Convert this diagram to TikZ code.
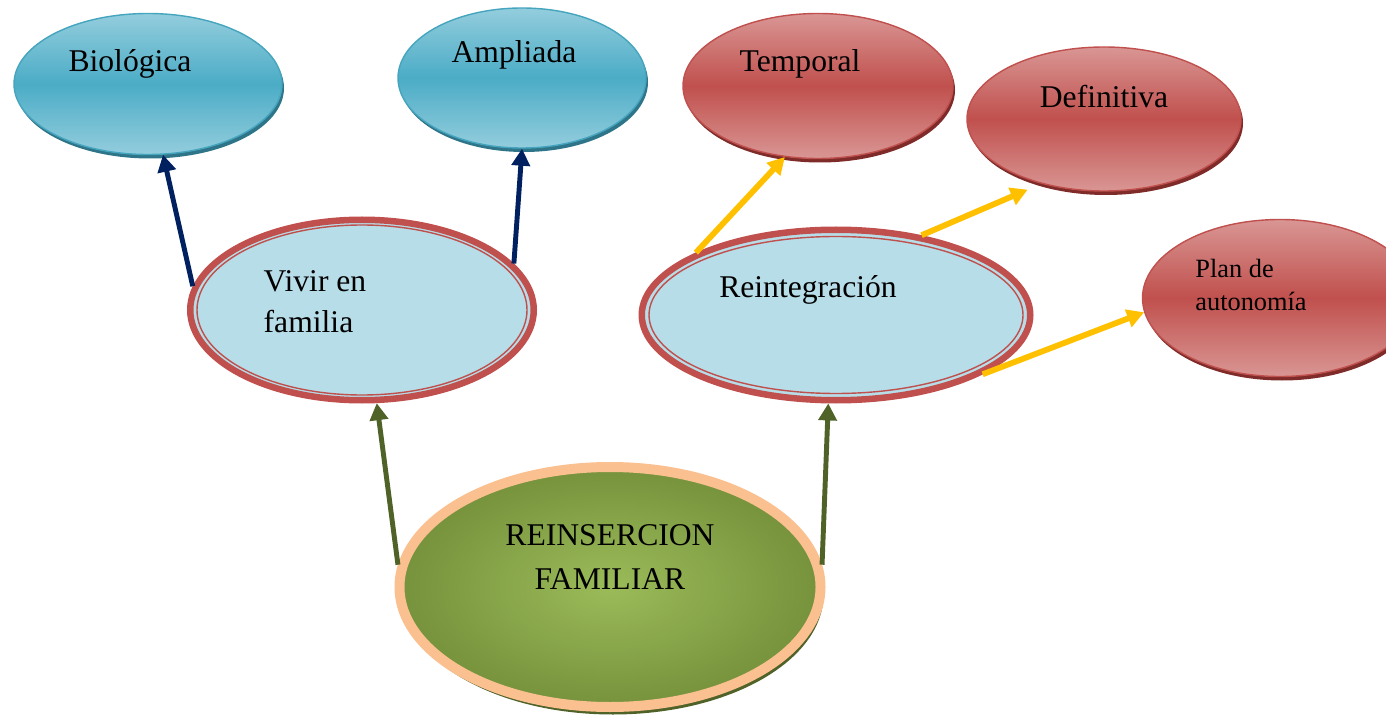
\documentclass[tikz,border=0pt]{standalone}
\usepackage{fontspec}
\setmainfont{Liberation Serif}
\usetikzlibrary{positioning, shapes.geometric, shadows, arrows.meta}

\definecolor{azulclaro}{HTML}{93CDDD}
\definecolor{azulmedio}{HTML}{4BACC6}
\definecolor{azulborde}{HTML}{46A5BE}
\definecolor{azulsombra}{HTML}{2E7589}
\definecolor{rojoclaro}{HTML}{D99694}
\definecolor{rojomedio}{HTML}{C0504D}
\definecolor{rojosombra}{HTML}{7F2B29}
\definecolor{celeste}{HTML}{B7DDE8}
\definecolor{durazno}{HTML}{FAC090}
\definecolor{verdeclaro}{HTML}{9BBB59}
\definecolor{verdeoscuro}{HTML}{76923C}
\definecolor{verdesombra}{HTML}{4F6228}
\definecolor{marino}{HTML}{002060}
\definecolor{ambar}{HTML}{FFC000}

\begin{document}
\begin{tikzpicture}
	[on grid, node distance=2cm,
	 every label/.style={font=\fontsize{18}{23.5}\selectfont, align=left, inner sep=0pt},
	 azul/.style={ellipse, draw=azulborde, line width=.8pt, inner sep=0pt,
	   top color=azulclaro, bottom color=azulclaro, middle color=azulmedio,
	   drop shadow={fill=azulsombra, opacity=1, shadow xshift=.04cm, shadow yshift=-.08cm}},
	 rojo/.style={ellipse, draw=rojomedio, line width=.8pt, inner sep=0pt,
	   top color=rojoclaro, bottom color=rojoclaro, middle color=rojomedio,
	   drop shadow={fill=rojosombra, opacity=1, shadow xshift=.04cm, shadow yshift=-.08cm}},
	 hub/.style={ellipse, draw=rojomedio, line width=.13cm, fill=celeste, inner sep=0pt},
	 raiz/.style={ellipse, draw=durazno, line width=.2cm, inner sep=0pt,
	   inner color=verdeclaro, outer color=verdeoscuro,
	   drop shadow={fill=verdesombra, opacity=1, shadow xshift=.06cm, shadow yshift=-.15cm}},
	 flecha/.style={-{Triangle[length=.34cm,width=.36cm]}, line width=2.8pt}]
   \useasboundingbox (0,0) rectangle (27.72,14.34);

   \node[raiz, minimum width=8.42cm, minimum height=4.8cm] (raiz) at (12.2,2.6)
      {};
   \node[hub, minimum width=6.87cm, minimum height=3.61cm] (vivir) [above left=5.54 and 4.96 of raiz] {};
   \node[hub, minimum width=7.77cm, minimum height=3.41cm] (reint) [above right=5.44 and 4.52 of raiz] {};
   \draw[rojomedio, line width=.8pt] (vivir.center) ellipse [x radius=3.3, y radius=1.7];
   \draw[rojomedio, line width=.8pt] (reint.center) ellipse [x radius=3.74, y radius=1.57];

   \node[azul, minimum width=5.36cm, minimum height=2.82cm] (bio) [above left=4.52 and 4.28 of vivir] {};
   \node[azul, minimum width=4.96cm, minimum height=2.8cm] (amp) [above right=4.64 and 3.2 of vivir] {};
   \node[rojo, minimum width=5.4cm, minimum height=2.9cm] (temp) [above left=4.58 and .36 of reint] {};
   \node[rojo, minimum width=5.48cm, minimum height=2.88cm] (def) [above right=3.92 and 5.36 of reint] {};
   \node[rojo, minimum width=5.5cm, minimum height=3.14cm] (plan) [above right=.34 and 8.88 of reint] {};

   % textos
   \node[label={[font=\fontsize{18}{24.5}\selectfont, align=center, xshift=0cm, yshift=.6cm]center:{REINSERCION\\FAMILIAR}}] at (raiz.center) {};
   \node[label={[xshift=-.94cm, yshift=.16cm]center:{Vivir en\\familia}}] at (vivir.center) {};
   \node[label={[xshift=-.56cm, yshift=.5cm]center:Reintegración}] at (reint.center) {};
   \node[label={[xshift=-.36cm, yshift=.4cm]center:Biológica}] at (bio.center) {};
   \node[label={[xshift=-.16cm, yshift=.46cm]center:Ampliada}] at (amp.center) {};
   \node[label={[xshift=-.36cm, yshift=.44cm]center:Temporal}] at (temp.center) {};
   \node[label={[xshift=0cm, yshift=.44cm]center:Definitiva}] at (def.center) {};
   \node[label={[font=\fontsize{15}{19.3}\selectfont, xshift=-.58cm, yshift=.26cm]center:{Plan de\\autonomía}}] at (plan.center) {};

   \path[flecha]
    (vivir.172) edge[color=marino] (bio.282)
    (vivir.17) edge[color=marino] (amp.270)
    (reint.156) edge[color=ambar, line width=3.3pt] (temp.245)
    (reint.43) edge[color=ambar, line width=3.3pt, shorten >=.3cm] (def.226)
    (reint.338) edge[color=ambar, line width=3.3pt] (plan.186)
    (raiz.174) edge[color=verdesombra] (vivir.279)
    (raiz.6) edge[color=verdesombra] (reint.265);

\end{tikzpicture}
\end{document}
